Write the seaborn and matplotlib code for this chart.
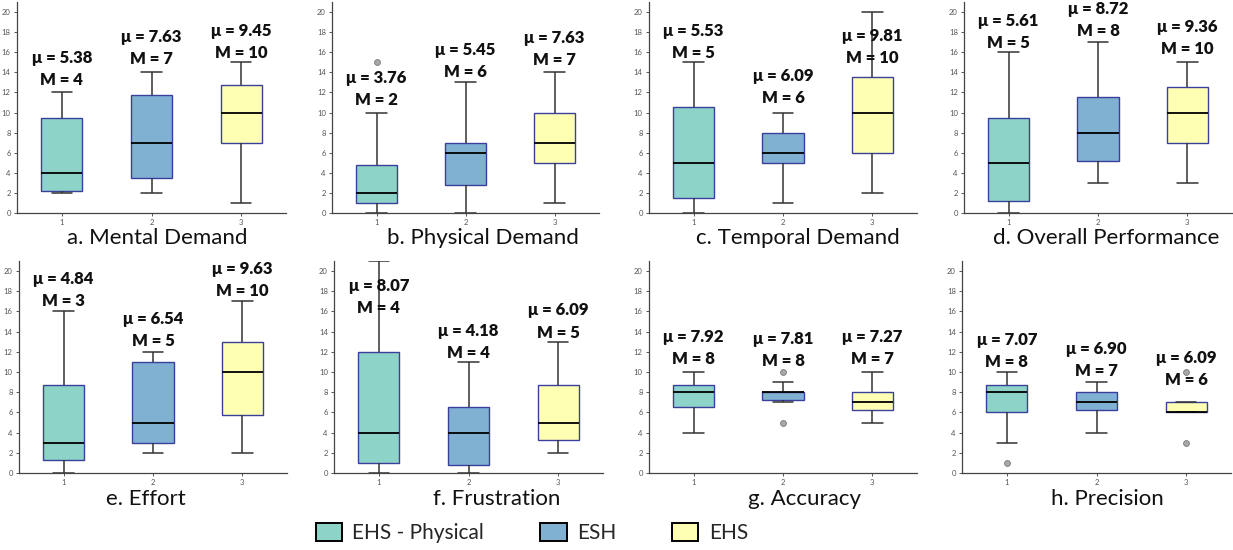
import matplotlib
matplotlib.use("Agg")
import matplotlib.pyplot as plt
import numpy as np
import pandas as pd
import seaborn as sns
from matplotlib.patches import Patch

# ---- data -------------------------------------------------------------
panel_titles = ["a. Mental Demand", "b. Physical Demand", "c. Temporal Demand",
                "d. Overall Performance", "e. Effort", "f. Frustration",
                "g. Accuracy", "h. Precision"]
conditions = ["EHS - Physical", "ESH", "EHS"]
tick_labels = ["1", "2", "3"]
colors = ["#8dd3c7", "#80b1d3", "#ffffb3"]

# five-number summaries per panel (rows) and condition (columns)
whisker_low = [[2, 2, 1], [0, 0, 1], [0, 1, 2], [0, 3, 3],
               [0, 2, 2], [0, 0, 2], [4, 7, 5], [3, 4, 6]]
q1 = [[2.2, 3.5, 7], [1, 2.75, 5], [1.5, 5, 6], [1.2, 5.2, 7],
      [1.25, 3, 5.75], [1, 0.75, 3.25], [6.5, 7.25, 6.25], [6, 6.25, 6]]
medians = [[4, 7, 10], [2, 6, 7], [5, 6, 10], [5, 8, 10],
           [3, 5, 10], [4, 4, 5], [8, 8, 7], [8, 7, 6]]
q3 = [[9.5, 11.75, 12.75], [4.75, 7, 10], [10.5, 8, 13.5], [9.5, 11.5, 12.5],
      [8.75, 11, 13], [12, 6.5, 8.75], [8.75, 8, 8], [8.75, 8, 7]]
whisker_high = [[12, 14, 15], [10, 13, 14], [15, 10, 20], [16, 17, 15],
                [16, 12, 17], [21, 11, 13], [10, 9, 10], [10, 9, 7]]
means = [[5.38, 7.63, 9.45], [3.76, 5.45, 7.63], [5.53, 6.09, 9.81],
         [5.61, 8.72, 9.36], [4.84, 6.54, 9.63], [8.07, 4.18, 6.09],
         [7.92, 7.81, 7.27], [7.07, 6.90, 6.09]]

# outlying observations: panel index, condition index, value
outlier_panel = [1, 6, 6, 7, 7, 7]
outlier_group = [0, 1, 1, 0, 2, 2]
outlier_value = [15, 10, 5, 1, 10, 3]

# ---- layout -------------------------------------------------------------
W, H = 1233, 550
# axes boxes in pixels: left, right, top, bottom
axes_px = [(17, 286, 2, 213), (332, 599, 2, 213), (649, 917, 2, 213), (964, 1232, 2, 213),
           (19, 287, 261, 473), (334, 603, 261, 473), (649, 917, 261, 473), (962, 1231, 261, 473)]
title_px = [(157, 238), (483, 238), (798, 238), (1106, 238),
            (146, 499), (497, 499), (805, 499), (1107, 499)]
# vertical position of the "M = " line of each annotation (data units)
label_y = [[13.2, 15.3, 15.9], [11.2, 14.0, 15.2], [15.9, 11.4, 15.4], [16.9, 18.1, 16.3],
           [17.0, 13.1, 18.05], [16.3, 11.9, 13.9], [11.3, 11.06, 11.3], [11.0, 10.1, 9.2]]

sns.set_style("ticks")
plt.rcParams["font.family"] = ["Lato", "DejaVu Sans"]

fig = plt.figure(figsize=(W / 100, H / 100), dpi=100)

box_edge = "#3b3f9c"
line_col = "#333333"

for p, title in enumerate(panel_titles):
    l, r, t, b = axes_px[p]
    ax = fig.add_axes([l / W, 1 - b / H, (r - l) / W, (b - t) / H])

    rows = []
    for g in range(3):
        for v in (whisker_low[p][g], q1[p][g], medians[p][g], q3[p][g], whisker_high[p][g]):
            rows.append({"group": tick_labels[g], "value": v})
    df = pd.DataFrame(rows)

    sns.boxplot(data=df, x="group", y="value", hue="group", order=tick_labels,
                hue_order=tick_labels, palette=dict(zip(tick_labels, colors)),
                saturation=1, width=0.46, whis=(0, 100), showfliers=False,
                legend=False, linewidth=1.1, linecolor=line_col, ax=ax,
                boxprops=dict(edgecolor=box_edge, linewidth=1.0),
                medianprops=dict(color="black", linewidth=1.3))

    fx = [tick_labels[g] for pp, g in zip(outlier_panel, outlier_group) if pp == p]
    fy = [v for pp, v in zip(outlier_panel, outlier_value) if pp == p]
    if fx:
        sns.stripplot(x=fx, y=fy, order=tick_labels, jitter=False, ax=ax,
                      color="#a8a8a8", edgecolor="#777777", linewidth=0.6, size=4.2)

    for g in range(3):
        ax.annotate(f"M = {medians[p][g]:g}", (g, label_y[p][g]),
                    ha="center", va="center", fontsize=12, fontweight="heavy",
                    color="#111111")
        ax.annotate(f"\u03bc = {means[p][g]:.2f}", (g, label_y[p][g]),
                    xytext=(0, 16), textcoords="offset points",
                    ha="center", va="center", fontsize=12, fontweight="heavy",
                    color="#111111")

    ax.set_xlim(-0.5, 2.5)
    ax.set_ylim(0, 21)
    ax.set_yticks(np.arange(0, 21, 2))
    ax.set_xlabel("")
    ax.set_ylabel("")
    ax.tick_params(labelsize=5.5, labelcolor="#555555", length=2.5, width=0.7,
                   color="#555555", pad=2)
    sns.despine(ax=ax)
    for s in ("left", "bottom"):
        ax.spines[s].set_color("#444444")
        ax.spines[s].set_linewidth(0.9)

    fig.text(title_px[p][0] / W, 1 - title_px[p][1] / H, title,
             ha="center", va="center", fontsize=16, color="#111111")

handles = [Patch(facecolor=c, edgecolor="black", linewidth=1.4) for c in colors]
fig.legend(handles, conditions, loc="center", bbox_to_anchor=(532 / W, 1 - 533 / H),
           ncol=3, frameon=False, fontsize=15, handlelength=1.25, handleheight=1.0,
           columnspacing=2.7, handletextpad=0.5)

fig.savefig("out.png", dpi=100)
